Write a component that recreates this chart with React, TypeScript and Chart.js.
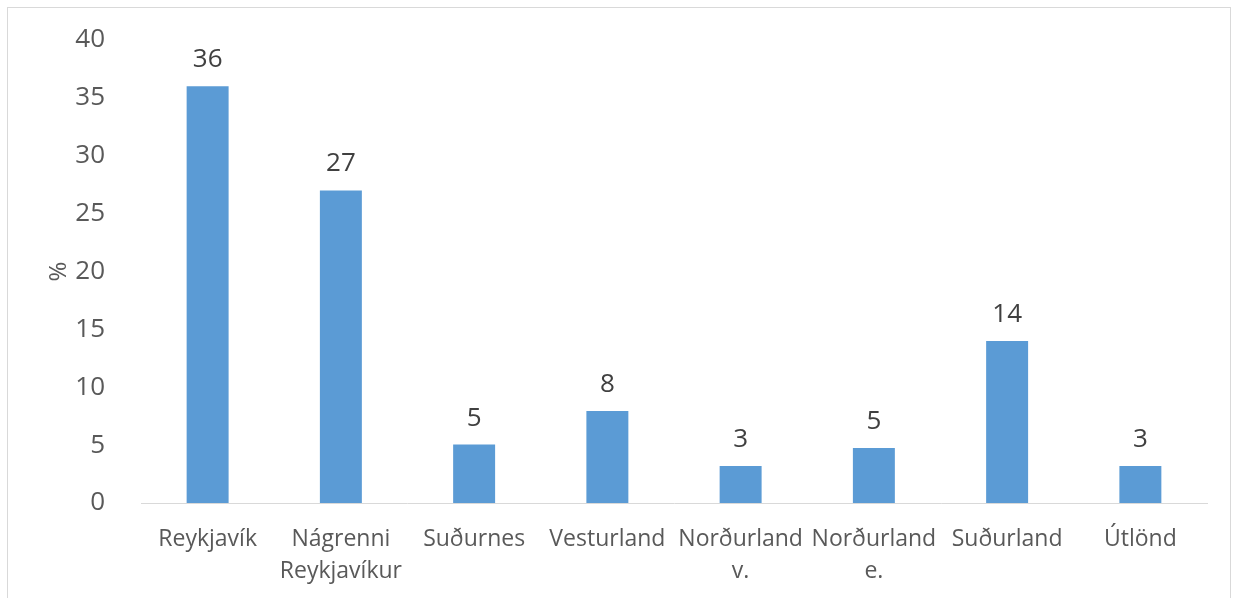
import React, { useEffect, useRef } from "react";
import { Chart, registerables } from "chart.js";

Chart.register(...registerables);

const categories: (string | string[])[] = [
  "Reykjavík",
  ["Nágrenni", "Reykjavíkur"],
  "Suðurnes",
  "Vesturland",
  ["Norðurland", "v."],
  ["Norðurland", "e."],
  "Suðurland",
  "Útlönd",
];
const values: number[] = [36, 27, 5.05, 7.95, 3.2, 4.75, 14, 3.2];
const valueLabels: string[] = ["36", "27", "5", "8", "3", "5", "14", "3"];
const yAxisTitle = "%";

const FONT = "'Open Sans', 'Noto Sans', sans-serif";

const dataLabelPlugin = {
  id: "dataLabels",
  afterDatasetsDraw(chart: any) {
    const ctx = chart.ctx;
    const meta = chart.getDatasetMeta(0);
    ctx.save();
    ctx.font = `26px ${FONT}`;
    ctx.fillStyle = "#404040";
    ctx.textAlign = "center";
    ctx.textBaseline = "alphabetic";
    meta.data.forEach((bar: any, i: number) => {
      ctx.fillText(valueLabels[i], bar.x, bar.y - 19);
    });
    ctx.restore();
  },
};

export default function App() {
  const canvasRef = useRef<HTMLCanvasElement | null>(null);

  useEffect(() => {
    if (!canvasRef.current) return;
    const chart = new Chart(canvasRef.current, {
      type: "bar",
      data: {
        labels: categories,
        datasets: [
          {
            data: values,
            backgroundColor: "#5B9BD5",
            borderWidth: 0,
            categoryPercentage: 1,
            barPercentage: 0.315,
          },
        ],
      },
      options: {
        animation: false,
        responsive: true,
        maintainAspectRatio: false,
        layout: { padding: { top: 32, right: 23, left: 0, bottom: 0 } },
        plugins: {
          legend: { display: false },
          tooltip: { enabled: false },
        },
        scales: {
          x: {
            grid: { display: false },
            border: { display: true, color: "#d9d9d9", width: 1 },
            ticks: {
              color: "#595959",
              font: { family: FONT, size: 23, lineHeight: 32 / 23 },
              padding: 12,
              maxRotation: 0,
              minRotation: 0,
              autoSkip: false,
            },
            afterFit: (scale: any) => {
              scale.height = 95;
              scale.paddingLeft = 0;
              scale.paddingRight = 0;
            },
          },
          y: {
            min: 0,
            max: 40,
            grid: { display: false },
            border: { display: false },
            ticks: {
              stepSize: 5,
              color: "#595959",
              font: { family: FONT, size: 26 },
              padding: 28,
            },
            title: {
              display: true,
              text: yAxisTitle,
              color: "#595959",
              font: { family: FONT, size: 24 },
              padding: { top: 37, bottom: 0 },
            },
            afterFit: (scale: any) => {
              scale.width = 133;
              scale.paddingTop = 0;
              scale.paddingBottom = 0;
            },
          },
        },
      },
      plugins: [dataLabelPlugin],
    });
    return () => chart.destroy();
  }, []);

  return (
    <div
      style={{
        position: "absolute",
        left: 7,
        top: 7,
        width: 1222,
        height: 590,
        border: "1px solid #d9d9d9",
        borderBottom: "none",
        background: "#fff",
      }}
    >
      <canvas ref={canvasRef} />
    </div>
  );
}
